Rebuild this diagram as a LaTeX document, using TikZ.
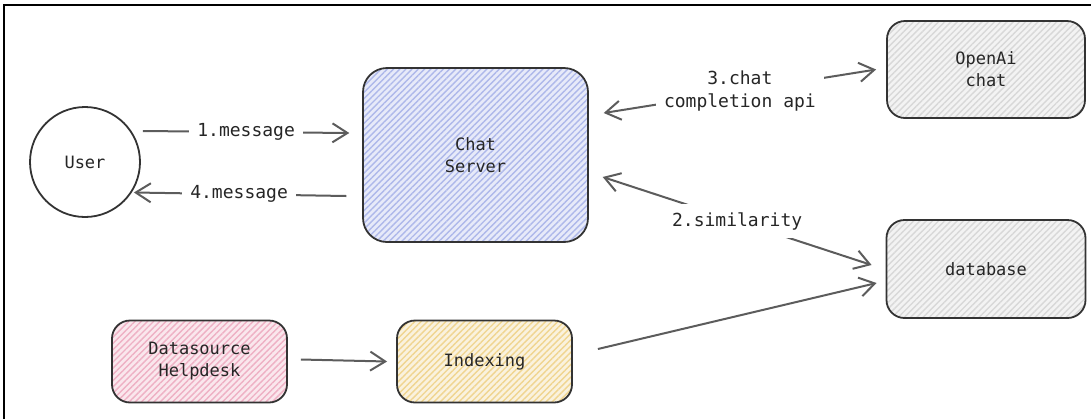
\documentclass[tikz,border=0pt]{standalone}
\usepackage{fontspec}
\setmonofont{DejaVu Sans Mono}
\usepackage{xcolor}
\usepackage{tikz}
\usetikzlibrary{arrows.meta,positioning,patterns.meta}

\definecolor{boxline}{HTML}{333333}
\definecolor{ink}{HTML}{262626}
\definecolor{wire}{HTML}{5C5C5C}
\definecolor{chatblue}{HTML}{AEB8EA}
\definecolor{srcpink}{HTML}{EEB0C4}
\definecolor{idxyellow}{HTML}{F0D590}
\definecolor{cloudgray}{HTML}{D8D8D8}

\begin{document}
\begin{tikzpicture}[x=0.5pt, y=-0.5pt, on grid, >={Straight Barb[length=7.5pt,width=9.5pt]},
  font=\ttfamily\fontsize{8.5}{11}\selectfont,
  box/.style = {draw=boxline, rounded corners=9pt, line width=0.9pt, text=ink, align=center, minimum width=87.5pt, minimum height=41pt},
  hatch/.style = {preaction={fill=#1!30!white}, pattern={Lines[angle=45,distance=2.2pt,line width=0.7pt]}, pattern color=#1},
  link/.style = {draw=wire, line width=1pt},
  tag/.style = {fill=white, inner sep=4pt, text=ink, align=center, font=\ttfamily\fontsize{9}{11.5}\selectfont}]
\useasboundingbox (0,0) rectangle (1091,419);
\draw[black, line width=1.1pt] (4,419) -- (4,5) -- (1091,5);

\node[circle, draw=boxline, line width=0.9pt, minimum size=55pt, text=ink] (user) at (85,162) {User};
\node[box, hatch=chatblue, minimum width=112.5pt, minimum height=87pt, rounded corners=12pt] (chat) [above right=3.5pt and 195.25pt of user] {Chat\\Server};
\node[box, hatch=cloudgray, minimum width=99pt, minimum height=48.5pt] (openai) [above right=42.75pt and 255.25pt of chat] {OpenAi\\chat};
\node[box, hatch=cloudgray, minimum width=99.5pt, minimum height=49pt] (db) [below=99.75pt of openai] {database};
\node[box, hatch=idxyellow] (index) [below right=103.25pt and 4.5pt of chat] {Indexing};
\node[box, hatch=srcpink] (source) [left=142.5pt of index] {Datasource\\Helpdesk};

\draw[link,->] ([xshift=1pt,yshift=15.5pt]user.east) -- node[tag] {1.message} ([xshift=-6.5pt,yshift=11pt]chat.west);
\draw[link,->,shorten >=1pt] ([xshift=-8pt,yshift=-20.5pt]chat.west) -- node[tag] {4.message} (user.-33);
\draw[link,<->] ([xshift=7.5pt,yshift=21pt]chat.east) -- node[tag] {3.chat\\completion api} ([xshift=-5pt]openai.west);
\draw[link,<->] ([xshift=7pt,yshift=-11pt]chat.east) -- node[tag] {2.similarity} ([xshift=-7pt,yshift=2pt]db.west);
\draw[link,->] ([xshift=12.5pt,yshift=6.25pt]index.east) -- ([xshift=-4.5pt,yshift=-7pt]db.west);
\draw[link,->] ([xshift=6.5pt,yshift=1pt]source.east) -- ([xshift=-4.5pt]index.west);
\end{tikzpicture}
\end{document}
